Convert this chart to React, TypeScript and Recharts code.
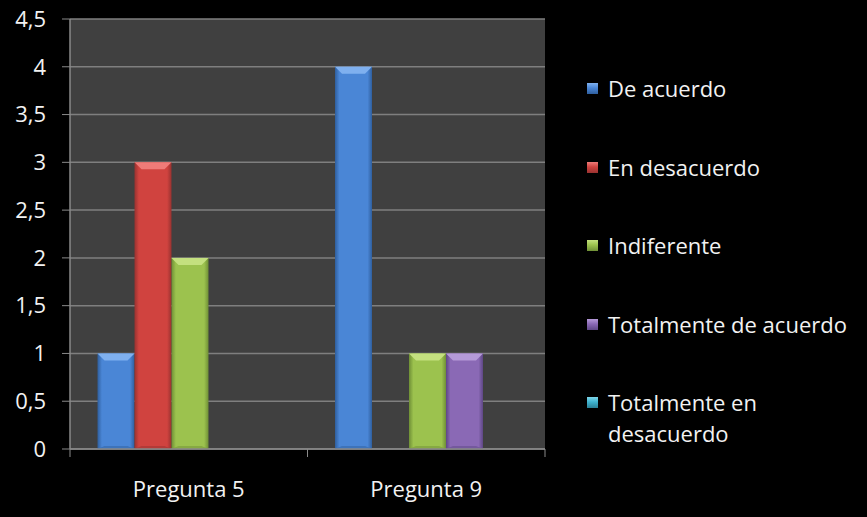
import {BarChart, Bar, XAxis, YAxis, CartesianGrid, Legend} from 'recharts';

const categories = ['Pregunta 5', 'Pregunta 9'];
const deAcuerdo = [1, 4];
const enDesacuerdo = [3, 0];
const indiferente = [2, 1];
const totalmenteDeAcuerdo = [0, 1];
const totalmenteEnDesacuerdo = [0, 0];
const yTicks = [0, 0.5, 1, 1.5, 2, 2.5, 3, 3.5, 4, 4.5];

const seriesNames = ['De acuerdo', 'En desacuerdo', 'Indiferente', 'Totalmente de acuerdo', 'Totalmente en desacuerdo'];
const seriesValues = [deAcuerdo, enDesacuerdo, indiferente, totalmenteDeAcuerdo, totalmenteEnDesacuerdo];

// color base, claro (bisel), oscuro (bordes)
const palette = [
  {base: '#4a86d6', light: '#7fb0ef', dark: '#2f5f9e'},
  {base: '#d0433f', light: '#ef7b78', dark: '#983230'},
  {base: '#9cc24e', light: '#c4e07f', dark: '#6f8f36'},
  {base: '#8a69b5', light: '#b59ad8', dark: '#5e4785'},
  {base: '#3fb3cf', light: '#7fd6ea', dark: '#2a8096'},
];

const data = categories.map((name, i) => {
  const row: any = {name};
  seriesNames.forEach((s, k) => (row[s] = seriesValues[k][i]));
  return row;
});

const FONT = '"Open Sans", sans-serif';
const TEXT = '#f2f2f2';
const FS = 22;

function makeShape(k: number) {
  return (props: any) => {
    const {x, y, width, height} = props;
    if (!height || height <= 0) return <g />;
    const b = Math.min(7, width / 4, height / 2);
    const c = palette[k];
    return (
      <g>
        <rect x={x} y={y} width={width} height={height} fill={`url(#grad${k})`} />
        <polygon
          points={`${x},${y} ${x + width},${y} ${x + width - b},${y + b} ${x + b},${y + b}`}
          fill={c.light}
        />
        <polygon
          points={`${x},${y + height} ${x + width},${y + height} ${x + width - b},${y + height - 3} ${x + b},${y + height - 3}`}
          fill={c.dark}
          opacity={0.5}
        />
      </g>
    );
  };
}

function CategoryTick(props: any) {
  const {x, y, payload, index, visibleTicksCount} = props;
  const half = payload.offset || 0;
  const axisY = y - 8;
  return (
    <g>
      <line x1={x - half} x2={x - half} y1={axisY} y2={axisY + 8} stroke="#8a8a8a" />
      {index === visibleTicksCount - 1 && (
        <line x1={x + half} x2={x + half} y1={axisY} y2={axisY + 8} stroke="#8a8a8a" />
      )}
      <text x={x} y={axisY + 48} textAnchor="middle" fill={TEXT} fontFamily={FONT} fontSize={FS}>
        {payload.value}
      </text>
    </g>
  );
}

function LegendContent() {
  return (
    <div style={{fontFamily: FONT, fontSize: FS, color: TEXT, lineHeight: '31px'}}>
      {seriesNames.map((s, k) => (
        <div key={s} style={{display: 'flex', alignItems: 'flex-start', height: 78.5}}>
          <div
            style={{
              width: 11,
              height: 11,
              marginTop: 10,
              marginRight: 10,
              flexShrink: 0,
              background: `linear-gradient(180deg, ${palette[k].light} 0%, ${palette[k].base} 45%, ${palette[k].dark} 100%)`,
            }}
          />
          <div style={{width: 260, whiteSpace: 'nowrap'}}>{k === 4 ? <>Totalmente en<br />desacuerdo</> : s}</div>
        </div>
      ))}
    </div>
  );
}

export default function App() {
  return (
    <div style={{position: 'fixed', left: 0, top: 0, width: 867, height: 517, background: '#000'}}>
      <BarChart
        width={867}
        height={517}
        data={data}
        margin={{top: 19, right: 322, bottom: 20, left: 0}}
        barCategoryGap={27.5}
        barGap={0}
      >
        <defs>
          {palette.map((c, k) => (
            <linearGradient key={k} id={`grad${k}`} x1="0" y1="0" x2="1" y2="0">
              <stop offset="0%" stopColor={c.dark} />
              <stop offset="12%" stopColor={c.base} />
              <stop offset="88%" stopColor={c.base} />
              <stop offset="100%" stopColor={c.dark} />
            </linearGradient>
          ))}
        </defs>
        <CartesianGrid vertical={false} stroke="#7f7f7f" strokeWidth={1.5} fill="#404040" />
        <XAxis
          dataKey="name"
          height={48}
          axisLine={{stroke: '#8a8a8a', strokeWidth: 1.5}}
          tickLine={false}
          tick={<CategoryTick />}
          interval={0}
        />
        <YAxis
          width={70}
          domain={[0, 4.5]}
          ticks={yTicks}
          interval={0}
          axisLine={{stroke: '#8a8a8a', strokeWidth: 1.5}}
          tickLine={{stroke: '#8a8a8a'}}
          tickSize={8}
          tickMargin={16}
          tickFormatter={(v: number) => String(v).replace('.', ',')}
          tick={{fill: TEXT, fontFamily: FONT, fontSize: FS}}
        />
        <Legend
          layout="vertical"
          align="center"
          verticalAlign="middle"
          content={<LegendContent />}
          wrapperStyle={{left: 587, top: 73, width: 280}}
        />
        {seriesNames.map((s, k) => (
          <Bar key={s} dataKey={s} fill={palette[k].base} shape={makeShape(k)} isAnimationActive={false} />
        ))}
      </BarChart>
    </div>
  );
}
